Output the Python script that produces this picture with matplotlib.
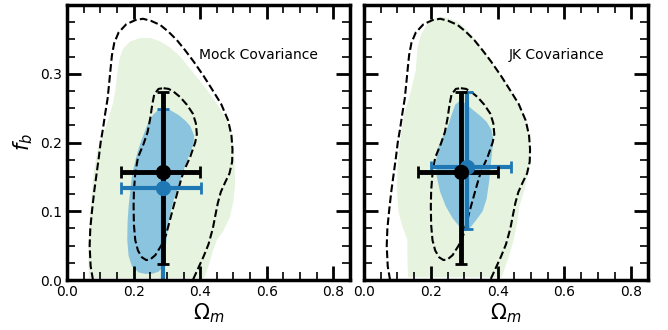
import matplotlib
matplotlib.use("Agg")
import matplotlib.pyplot as plt
from matplotlib.ticker import MultipleLocator
import numpy as np

# ---- Contour outlines (Omega_m, f_b) ----
# Reference (dashed) 68% and 95% contours, shared by both panels
ref95_om = [0.078, 0.071, 0.068, 0.070, 0.075, 0.082, 0.089, 0.096, 0.101, 0.108,
            0.115, 0.122, 0.127, 0.131, 0.135, 0.142, 0.155, 0.178, 0.205, 0.228,
            0.252, 0.280, 0.305, 0.330, 0.355, 0.380, 0.410, 0.440, 0.463, 0.484,
            0.494, 0.497, 0.496, 0.488, 0.475, 0.462, 0.453, 0.446, 0.438, 0.425,
            0.410, 0.393, 0.378]
ref95_fb = [0.000, 0.020, 0.050, 0.075, 0.100, 0.130, 0.155, 0.180, 0.200, 0.220,
            0.243, 0.264, 0.288, 0.308, 0.327, 0.345, 0.360, 0.372, 0.378, 0.380,
            0.377, 0.371, 0.361, 0.349, 0.334, 0.318, 0.297, 0.274, 0.256, 0.232,
            0.210, 0.190, 0.172, 0.155, 0.142, 0.128, 0.112, 0.095, 0.075, 0.052,
            0.034, 0.016, 0.000]

ref68_om = [0.290, 0.305, 0.320, 0.340, 0.360, 0.378, 0.387, 0.390, 0.385, 0.370,
            0.357, 0.345, 0.332, 0.320, 0.308, 0.297, 0.283, 0.265, 0.250, 0.238,
            0.225, 0.213, 0.205, 0.201, 0.200, 0.201, 0.205, 0.213, 0.230, 0.242,
            0.250, 0.256, 0.262, 0.275, 0.290]
ref68_fb = [0.279, 0.278, 0.274, 0.266, 0.255, 0.242, 0.228, 0.212, 0.200, 0.179,
            0.165, 0.150, 0.128, 0.107, 0.085, 0.065, 0.050, 0.036, 0.030, 0.029,
            0.033, 0.043, 0.058, 0.080, 0.107, 0.130, 0.155, 0.178, 0.198, 0.215,
            0.235, 0.255, 0.270, 0.278, 0.279]

# Mock covariance: filled 95% and 68% regions
mock95_om = [0.066, 0.064, 0.065, 0.068, 0.073, 0.080, 0.092, 0.108, 0.124, 0.138,
             0.146, 0.151, 0.157, 0.168, 0.190, 0.220, 0.250, 0.280, 0.310, 0.340,
             0.380, 0.420, 0.455, 0.485, 0.498, 0.503, 0.505, 0.500, 0.488, 0.468,
             0.452, 0.440, 0.428, 0.412]
mock95_fb = [0.003, 0.030, 0.060, 0.090, 0.120, 0.155, 0.190, 0.212, 0.233, 0.257,
             0.278, 0.300, 0.320, 0.336, 0.347, 0.352, 0.352, 0.347, 0.338, 0.325,
             0.301, 0.277, 0.253, 0.228, 0.205, 0.175, 0.140, 0.115, 0.090, 0.070,
             0.060, 0.045, 0.025, 0.003]

mock68_om = [0.273, 0.290, 0.310, 0.335, 0.355, 0.370, 0.382, 0.380, 0.365, 0.352,
             0.340, 0.330, 0.320, 0.310, 0.302, 0.296, 0.290, 0.275, 0.255, 0.235,
             0.215, 0.195, 0.185, 0.181, 0.182, 0.185, 0.190, 0.196, 0.208, 0.217,
             0.225, 0.243, 0.258]
mock68_fb = [0.247, 0.249, 0.247, 0.240, 0.232, 0.224, 0.210, 0.198, 0.179, 0.162,
             0.145, 0.130, 0.116, 0.097, 0.073, 0.044, 0.020, 0.012, 0.009, 0.009,
             0.011, 0.020, 0.035, 0.058, 0.085, 0.107, 0.130, 0.155, 0.179, 0.194,
             0.205, 0.228, 0.240]

# JK covariance: filled 95% and 68% regions
jk95_om = [0.132, 0.130, 0.130, 0.115, 0.103, 0.099, 0.100, 0.105, 0.113, 0.122,
           0.135, 0.148, 0.155, 0.160, 0.170, 0.190, 0.210, 0.230, 0.250, 0.280,
           0.305, 0.330, 0.380, 0.430, 0.470, 0.490, 0.497, 0.497, 0.493, 0.480,
           0.465, 0.458, 0.445, 0.430, 0.412]
jk95_fb = [0.004, 0.030, 0.058, 0.078, 0.100, 0.130, 0.160, 0.190, 0.220, 0.245,
           0.264, 0.290, 0.305, 0.337, 0.356, 0.373, 0.380, 0.383, 0.381, 0.376,
           0.365, 0.352, 0.318, 0.284, 0.250, 0.225, 0.200, 0.180, 0.160, 0.131,
           0.107, 0.082, 0.053, 0.029, 0.004]

jk68_om = [0.285, 0.300, 0.327, 0.350, 0.367, 0.382, 0.387, 0.384, 0.380, 0.375,
           0.367, 0.355, 0.337, 0.318, 0.300, 0.285, 0.265, 0.245, 0.228, 0.218,
           0.215, 0.220, 0.232, 0.250, 0.262, 0.273]
jk68_fb = [0.260, 0.258, 0.247, 0.238, 0.230, 0.218, 0.205, 0.190, 0.170, 0.145,
           0.118, 0.100, 0.088, 0.076, 0.072, 0.078, 0.090, 0.107, 0.128, 0.150,
           0.170, 0.190, 0.205, 0.222, 0.240, 0.255]

# ---- Best-fit points with asymmetric errors: [value, lower bound, upper bound] ----
ref_om = [0.289, 0.162, 0.400]
ref_fb = [0.157, 0.024, 0.274]
mock_om = [0.287, 0.161, 0.401]
mock_fb = [0.134, -0.030, 0.249]
jk_om = [0.309, 0.200, 0.440]
jk_fb = [0.165, 0.074, 0.274]

panel_titles = ["Mock Covariance", "JK Covariance"]
x_ticks = [0.0, 0.2, 0.4, 0.6, 0.8]
y_ticks = [0.0, 0.1, 0.2, 0.3]

GREEN = "#e5f3df"
LIGHTBLUE = "#8bc4de"
TABBLUE = "#1f77b4"


def asym(v):
    return [[v[0] - v[1]], [v[2] - v[0]]]


fig = plt.figure(figsize=(6.68, 3.30), dpi=100)
ax1 = fig.add_axes([67 / 668, 50 / 330, 283 / 668, 275 / 330])
ax2 = fig.add_axes([364 / 668, 50 / 330, 284 / 668, 275 / 330])

panels = [
    (ax1, mock95_om, mock95_fb, mock68_om, mock68_fb, mock_om, mock_fb),
    (ax2, jk95_om, jk95_fb, jk68_om, jk68_fb, jk_om, jk_fb),
]

for i, (ax, o95, f95, o68, f68, pom, pfb) in enumerate(panels):
    ax.fill(o95, f95, color=GREEN, lw=0, zorder=0.5)
    ax.fill(o68, f68, color=LIGHTBLUE, lw=0, zorder=0.6)
    ax.plot(ref95_om, ref95_fb, ls="--", color="black", lw=1.5, zorder=1)
    ax.plot(ref68_om, ref68_fb, ls="--", color="black", lw=1.5, zorder=1)

    ax.errorbar([pom[0]], [pfb[0]], xerr=asym(pom), yerr=asym(pfb),
                fmt="o", color=TABBLUE, ms=10, elinewidth=3, capsize=4.5,
                capthick=2)
    ax.errorbar([ref_om[0]], [ref_fb[0]], xerr=asym(ref_om), yerr=asym(ref_fb),
                fmt="o", color="black", ms=10, elinewidth=3.5, capsize=4.5,
                capthick=2)

    ax.text(0.575, 0.327, panel_titles[i], ha="center", va="center", fontsize=10)

    ax.set_xlim(0, 0.85)
    ax.set_ylim(0, 0.4)
    ax.set_xticks(x_ticks)
    ax.set_yticks(y_ticks)
    ax.xaxis.set_minor_locator(MultipleLocator(0.05))
    ax.yaxis.set_minor_locator(MultipleLocator(0.025))
    ax.tick_params(which="both", direction="in", top=True, right=True,
                   labelsize=10)
    ax.tick_params(which="major", length=10, width=2)
    ax.tick_params(which="minor", length=6, width=1.2)
    for sp in ax.spines.values():
        sp.set_linewidth(2.5)
    ax.set_xlabel(r"$\Omega_m$", fontsize=15, labelpad=2)

ax1.set_ylabel(r"$f_b$", fontsize=15)
ax2.tick_params(labelleft=False)

fig.savefig("out.png", dpi=100)
